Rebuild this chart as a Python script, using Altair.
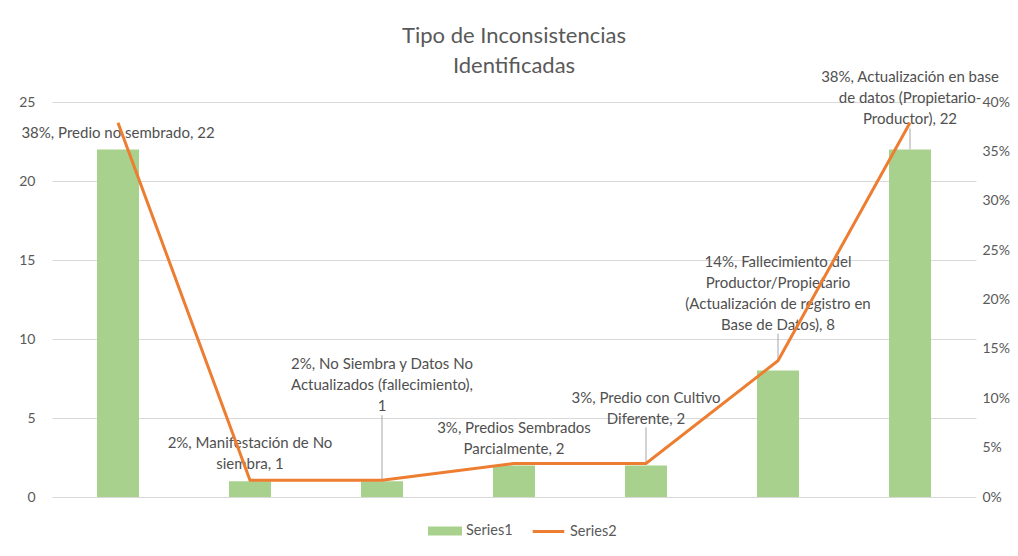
import altair as alt
import pandas as pd

categories = [
    "Predio no sembrado",
    "Manifestación de No siembra",
    "No Siembra y Datos No Actualizados (fallecimiento)",
    "Predios Sembrados Parcialmente",
    "Predio con Cultivo Diferente",
    "Fallecimiento del Productor/Propietario (Actualización de registro en Base de Datos)",
    "Actualización en base de datos (Propietario-Productor)",
]
series1_counts = [22, 1, 1, 2, 2, 8, 22]
series2_shares = [0.379, 0.017, 0.017, 0.034, 0.034, 0.138, 0.379]
label_texts = [
    "38%, Predio no sembrado, 22",
    "2%, Manifestación de No\nsiembra, 1",
    "2%, No Siembra y Datos No\nActualizados (fallecimiento),\n1",
    "3%, Predios Sembrados\nParcialmente, 2",
    "3%, Predio con Cultivo\nDiferente, 2",
    "14%, Fallecimiento del\nProductor/Propietario\n(Actualización de registro en\nBase de Datos), 8",
    "38%, Actualización en base\nde datos (Propietario-\nProductor), 22",
]
left_ticks = [0, 5, 10, 15, 20, 25]
right_ticks = [0, 0.05, 0.10, 0.15, 0.20, 0.25, 0.30, 0.35, 0.40]

df = pd.DataFrame({
    "idx": list(range(len(categories))),
    "cat": categories,
    "count": series1_counts,
    "share": series2_shares,
    "label": label_texts,
})

FONT = "Lato"
GRAY = "#595959"

x_enc = alt.X("cat:N", sort=categories, axis=None,
              scale=alt.Scale(paddingInner=0.682, paddingOuter=0.341))
left_scale = alt.Scale(domain=[0, 25], nice=False, zero=True)
y_left_axis = alt.Y("count:Q", scale=left_scale,
                    axis=alt.Axis(values=left_ticks, title=None, domain=False, ticks=False,
                                  labelPadding=17, labelFont=FONT, labelFontSize=14,
                                  labelColor=GRAY, gridColor="#d9d9d9", grid=True))
y_left = alt.Y("count:Q", scale=left_scale)

base = alt.Chart(df)

bars = base.transform_calculate(s1="'Series1'").mark_bar(size=42).encode(
    x=x_enc,
    y=y_left_axis,
    fill=alt.Fill("s1:N", scale=alt.Scale(domain=["Series1"], range=["#A9D18E"]),
                  legend=alt.Legend(orient="none", legendX=376, legendY=412, title=None,
                                    direction="horizontal",
                                    symbolType="M-1,-0.27H1V0.27H-1Z", symbolSize=1156,
                                    symbolStrokeWidth=0, labelFont=FONT, labelFontSize=14.5,
                                    labelColor=GRAY, labelOffset=4)),
)

# label offsets (pixels, first line) relative to bar value anchor
label_dy = [-16, -38, -117, -37, -67, -109, -72]
labels = []
for i, d in enumerate(label_dy):
    labels.append(
        base.transform_filter(alt.datum.idx == i).mark_text(
            dy=d, lineBreak="\n", font=FONT, fontSize=15, color="#505050",
            baseline="middle", align="center", lineHeight=21,
        ).encode(x=x_enc, y=y_left, text="label:N")
    )

leader_spec = {2: (-1, -66), 4: (-3, -38), 5: (-10, -37), 6: (0, -21)}
leaders = []
for i, (o1, o2) in leader_spec.items():
    leaders.append(
        base.transform_filter(alt.datum.idx == i).mark_rule(
            color="#a6a6a6", strokeWidth=1, yOffset=o1, y2Offset=o2,
        ).encode(x=x_enc, y=y_left, y2="count:Q")
    )

left = alt.layer(bars, *labels, *leaders)

line = base.transform_calculate(s2="'Series2'").mark_line(strokeWidth=3).encode(
    x=x_enc,
    y=alt.Y("share:Q", scale=alt.Scale(domain=[0, 0.4], nice=False),
            axis=alt.Axis(orient="right", values=right_ticks, format=".0%", title=None,
                          domain=False, ticks=False, grid=False, labelPadding=6,
                          labelFont=FONT, labelFontSize=14, labelColor=GRAY)),
    stroke=alt.Stroke("s2:N", scale=alt.Scale(domain=["Series2"], range=["#ED7D31"]),
                      legend=alt.Legend(orient="none", legendX=479, legendY=412, title=None,
                                        direction="horizontal", symbolType="stroke",
                                        symbolSize=1000, symbolStrokeWidth=3,
                                        labelFont=FONT, labelFontSize=14.5,
                                        labelColor=GRAY, labelOffset=4)),
)

chart = alt.layer(left, line).resolve_scale(y="independent").properties(
    width=924,
    height=395,
    autosize=alt.AutoSizeParams(type="none"),
    padding={"left": 44, "top": 94, "right": 34, "bottom": 50},
    title=alt.TitleParams(["Tipo de Inconsistencias", "Identificadas"], font=FONT,
                          fontSize=22, fontWeight="normal", color=GRAY, lineHeight=30,
                          anchor="middle", frame="group", offset=-8),
).configure_view(stroke=None)

chart.save("out.html", embed_options={"renderer": "svg", "actions": False})
